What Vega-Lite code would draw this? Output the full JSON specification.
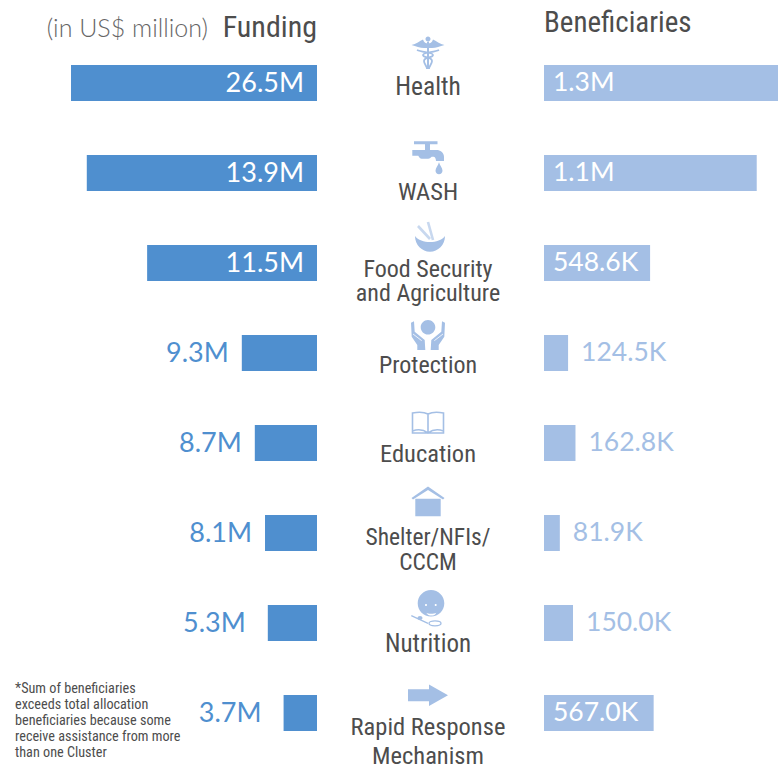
{
"$schema":"https://vega.github.io/schema/vega-lite/v6.json",
"background":"white",
"padding":{"left":0,"right":0,"top":9,"bottom":0},
"config":{"view":{"stroke":null},"concat":{"spacing":0},"axis":{"grid":false}},
"spacing":0,
"bounds":"flush",
"data":{"values":[
{"sector":"Health","label":"Health","funding_label":"26.5M","funding_drawn":26.5,"beneficiaries_k":1210,"beneficiaries_label":"1.3M"},
{"sector":"WASH","label":"WASH","funding_label":"13.9M","funding_drawn":24.8,"beneficiaries_k":1100,"beneficiaries_label":"1.1M"},
{"sector":"Food Security and Agriculture","label":"Food Security\nand Agriculture","funding_label":"11.5M","funding_drawn":18.3,"beneficiaries_k":548.6,"beneficiaries_label":"548.6K"},
{"sector":"Protection","label":"Protection","funding_label":"9.3M","funding_drawn":8.1,"beneficiaries_k":124.5,"beneficiaries_label":"124.5K"},
{"sector":"Education","label":"Education","funding_label":"8.7M","funding_drawn":6.7,"beneficiaries_k":162.8,"beneficiaries_label":"162.8K"},
{"sector":"Shelter/NFIs/CCCM","label":"Shelter/NFIs/\nCCCM","funding_label":"8.1M","funding_drawn":5.6,"beneficiaries_k":81.9,"beneficiaries_label":"81.9K"},
{"sector":"Nutrition","label":"Nutrition","funding_label":"5.3M","funding_drawn":5.3,"beneficiaries_k":150,"beneficiaries_label":"150.0K"},
{"sector":"Rapid Response Mechanism","label":"Rapid Response\nMechanism","funding_label":"3.7M","funding_drawn":3.6,"beneficiaries_k":567,"beneficiaries_label":"567.0K"}
]},
"hconcat":[
{"width":317,"height":720,
"encoding":{"y":{"field":"sector","type":"nominal","sort":null,"axis":null,"scale":{"paddingInner":0.6,"paddingOuter":0.3}}},
"layer":[
{"mark":{"type":"bar","color":"#4f8fcf"},"encoding":{"x":{"field":"funding_drawn","type":"quantitative","axis":null,"scale":{"domain":[0,34.15],"reverse":true,"nice":false}}}},
{"transform":[{"filter":"datum.funding_drawn>=18"}],"mark":{"type":"text","align":"right","baseline":"middle","dx":-13,"dy":1,"fontSize":27,"font":"Lato","color":"white"},"encoding":{"x":{"datum":0,"type":"quantitative"},"text":{"field":"funding_label"}}},
{"transform":[{"filter":"datum.funding_drawn<18 && datum.funding_drawn>=5.5"}],"mark":{"type":"text","align":"right","baseline":"middle","dx":-13,"dy":1,"fontSize":27,"font":"Lato","color":"#4f8fcf"},"encoding":{"x":{"field":"funding_drawn","type":"quantitative"},"text":{"field":"funding_label"}}},
{"transform":[{"filter":"datum.funding_drawn<5.5"}],"mark":{"type":"text","align":"right","baseline":"middle","dx":-22,"dy":1,"fontSize":27,"font":"Lato","color":"#4f8fcf"},"encoding":{"x":{"field":"funding_drawn","type":"quantitative"},"text":{"field":"funding_label"}}},
{"transform":[{"filter":"datum.sector=='Health'"}],"mark":{"type":"text","align":"right","baseline":"middle","dy":-55,"fontSize":30,"font":"Roboto Condensed","color":"#4d4d4d"},"encoding":{"x":{"datum":0,"type":"quantitative"},"text":{"value":"Funding"}}},
{"transform":[{"filter":"datum.sector=='Health'"}],"mark":{"type":"text","align":"right","baseline":"middle","dy":-54,"fontSize":25,"font":"Lato","fontWeight":300,"color":"#666666"},"encoding":{"x":{"datum":11.74,"type":"quantitative"},"text":{"value":"(in US$ million)"}}},
{"transform":[{"filter":"datum.sector=='Rapid Response Mechanism'"}],"mark":{"type":"text","align":"left","baseline":"middle","dy":-24,"fontSize":14.2,"lineHeight":16,"lineBreak":"\n","font":"Roboto Condensed","color":"#4d4d4d"},"encoding":{"x":{"datum":32.53,"type":"quantitative"},"text":{"value":"*Sum of beneficiaries\nexceeds total allocation\nbeneficiaries because some\nreceive assistance from more\nthan one Cluster"}}}
]},
{"width":227,"height":720,
"encoding":{"y":{"field":"sector","type":"nominal","sort":null,"axis":null,"scale":{"domain":["Health","WASH","Food Security and Agriculture","Protection","Education","Shelter/NFIs/CCCM","Nutrition","Rapid Response Mechanism"],"paddingInner":0.6,"paddingOuter":0.3}}},
"layer":[
{"transform":[{"filter":"datum.sector=='Health'"}],"mark":{"type":"text","baseline":"middle","align":"center","dx":-2.5,"dy":4,"fontSize":25.5,"font":"Roboto Condensed","color":"#4d4d4d"},"encoding":{"text":{"field":"label"}}},
{"transform":[{"filter":"datum.sector=='WASH'"}],"mark":{"type":"text","baseline":"middle","align":"center","dx":-2.5,"dy":20,"fontSize":24.5,"font":"Roboto Condensed","color":"#4d4d4d"},"encoding":{"text":{"field":"label"}}},
{"transform":[{"filter":"datum.sector=='Food Security and Agriculture'"}],"mark":{"type":"text","baseline":"middle","align":"center","dx":-2.5,"dy":7,"lineHeight":24,"lineBreak":"\n","fontSize":24,"font":"Roboto Condensed","color":"#4d4d4d"},"encoding":{"text":{"field":"label"}}},
{"transform":[{"filter":"datum.sector=='Protection'"}],"mark":{"type":"text","baseline":"middle","align":"center","dx":-2.5,"dy":13,"fontSize":24,"font":"Roboto Condensed","color":"#4d4d4d"},"encoding":{"text":{"field":"label"}}},
{"transform":[{"filter":"datum.sector=='Education'"}],"mark":{"type":"text","baseline":"middle","align":"center","dx":-2.5,"dy":12,"fontSize":24.5,"font":"Roboto Condensed","color":"#4d4d4d"},"encoding":{"text":{"field":"label"}}},
{"transform":[{"filter":"datum.sector=='Shelter/NFIs/CCCM'"}],"mark":{"type":"text","baseline":"middle","align":"center","dx":-2.5,"dy":5,"lineHeight":25,"lineBreak":"\n","fontSize":23.5,"font":"Roboto Condensed","color":"#4d4d4d"},"encoding":{"text":{"field":"label"}}},
{"transform":[{"filter":"datum.sector=='Nutrition'"}],"mark":{"type":"text","baseline":"middle","align":"center","dx":-2.5,"dy":21,"fontSize":25,"font":"Roboto Condensed","color":"#4d4d4d"},"encoding":{"text":{"field":"label"}}},
{"transform":[{"filter":"datum.sector=='Rapid Response Mechanism'"}],"mark":{"type":"text","baseline":"middle","align":"center","dx":-2.5,"dy":15,"lineHeight":29,"lineBreak":"\n","fontSize":24.5,"font":"Roboto Condensed","color":"#4d4d4d"},"encoding":{"text":{"field":"label"}}},

{"transform":[{"filter":"datum.sector=='Health'"}],"mark":{"type":"point","filled":true,"opacity":1,"size":4,"xOffset":-2.5,"yOffset":-30,"color":"#a4bfe5","shape":"M-16.5,-8 C-12,-9 -8,-12 -5,-13.5 C-4,-10.5 -2,-9.5 0,-9.5 C2,-9.5 4,-10.5 5,-13.5 C8,-12 12,-9 16.5,-8 C12,-6.5 8,-5 4,-5 L-4,-5 C-8,-5 -12,-6.5 -16.5,-8 Z M-2.5,-14 a2.5,2.5 0 1 0 5,0 a2.5,2.5 0 1 0 -5,0 Z M-1,-12 L1,-12 L1,16 L-1,16 Z"}},
{"transform":[{"filter":"datum.sector=='Health'"}],"mark":{"type":"point","filled":false,"opacity":1,"size":4,"strokeWidth":1.8,"xOffset":-2.5,"yOffset":-30,"color":"#a4bfe5","shape":"M-11,-3 C-6,-0.5 5,-1 5,2 C5,5 -4,4 -4,8 C-4,11 -1,13 -1,16 M11,-3 C6,-0.5 -5,-1 -5,2 C-5,5 4,4 4,8 C4,11 1,13 1,16"}},

{"transform":[{"filter":"datum.sector=='WASH'"}],"mark":{"type":"point","filled":true,"opacity":1,"size":4,"xOffset":-2.5,"yOffset":-16.3,"color":"#a4bfe5","shape":"M-14,-15.5 L9.5,-15.5 L9.5,-12.5 L2,-12.5 L2,-6.7 L8.7,-6.7 C12,-6.7 16,-4 16,0 L16,4.3 L8,4.3 C8,2 7,0 5.5,0 L3.7,0 C2.5,1 1.5,2 0.3,2 L-6.3,2 C-8,2 -9,0 -9.7,-1 L-15.7,-1 L-15.7,-6.7 L-3,-6.7 L-3,-12.5 L-14,-12.5 Z M11,5.5 C12,9 14.5,11 14.5,14 A3.4,3.4 0 0 1 7.5,14 C7.5,11 10,9 11,5.5 Z"}},

{"transform":[{"filter":"datum.sector=='Food Security and Agriculture'"}],"mark":{"type":"point","filled":true,"opacity":1,"size":4,"xOffset":-2.5,"yOffset":-23,"color":"#a4bfe5","shape":"M-13,-4 C-13,5 -6,11.7 2,11.7 C10,11.7 17,5 17,-4 C14,0 8,2 2,2 C-4,2 -10,0 -13,-4 Z"}},
{"transform":[{"filter":"datum.sector=='Food Security and Agriculture'"}],"mark":{"type":"point","filled":false,"opacity":0.6,"size":4,"strokeWidth":2.6,"xOffset":-2.5,"yOffset":-23,"color":"#a4bfe5","shape":"M-10,-14 L2,-1 M0,-18 L5,0"}},

{"transform":[{"filter":"datum.sector=='Protection'"}],"mark":{"type":"point","filled":true,"opacity":1,"size":4,"xOffset":-2.5,"yOffset":-18,"color":"#a4bfe5","shape":"M-7.3,-7.7 a7.3,7.3 0 1 0 14.6,0 a7.3,7.3 0 1 0 -14.6,0 Z M-17,-12.3 L-14,-13.7 L-13.3,-3.3 L-3.3,5 L-2.7,15 L-10.7,15 L-10.7,10 L-16.3,1.7 Z M17,-12.3 L14,-13.7 L13.3,-3.3 L3.3,5 L2.7,15 L10.7,15 L10.7,10 L16.3,1.7 Z"}},
{"transform":[{"filter":"datum.sector=='Protection'"}],"mark":{"type":"point","filled":false,"opacity":1,"size":4,"strokeWidth":0.8,"xOffset":-2.5,"yOffset":-18,"color":"white","shape":"M-15,-1 L-6.3,5.7 M15,-1 L6.3,5.7"}},

{"transform":[{"filter":"datum.sector=='Education'"}],"mark":{"type":"point","filled":false,"opacity":1,"size":4,"strokeWidth":1.6,"xOffset":-2.5,"yOffset":-21,"color":"#a4bfe5","shape":"M0,-8 C-4,-10 -10,-10 -15.5,-9 L-15.5,11 L15.5,11 L15.5,-9 C10,-10 4,-10 0,-8 L0,11 M-15.5,9 C-10,7 -4,8 0,11 C4,8 10,7 15.5,9"}},

{"transform":[{"filter":"datum.sector=='Shelter/NFIs/CCCM'"}],"mark":{"type":"point","filled":true,"opacity":1,"size":4,"xOffset":-2.5,"yOffset":-30,"color":"#a4bfe5","shape":"M-16.5,-5 L0,-16.5 L16.5,-5 L15,-3.5 L0,-13 L-15,-3.5 Z M-12.7,-4.3 L12.7,-4.3 L12.7,13.3 L-12.7,13.3 Z"}},

{"transform":[{"filter":"datum.sector=='Nutrition'"}],"mark":{"type":"point","filled":true,"opacity":1,"size":4,"xOffset":-2.5,"yOffset":-13,"color":"#a4bfe5","shape":"M-10.3,-6.7 a13.3,13.3 0 1 0 26.6,0 a13.3,13.3 0 1 0 -26.6,0 Z M-10.5,8 a2.5,2 0 1 0 5,0 a2.5,2 0 1 0 -5,0 Z"}},
{"transform":[{"filter":"datum.sector=='Nutrition'"}],"mark":{"type":"point","filled":false,"opacity":1,"size":4,"strokeWidth":1.3,"xOffset":-2.5,"yOffset":-13,"color":"#a4bfe5","shape":"M-16.7,5.7 L0,13.3 M1,13.3 a6,2.5 0 1 0 12,0 a6,2.5 0 1 0 -12,0 Z"}},
{"transform":[{"filter":"datum.sector=='Nutrition'"}],"mark":{"type":"point","filled":true,"opacity":1,"size":4,"xOffset":-2.5,"yOffset":-13,"color":"white","shape":"M-3,-5 a1,1 0 1 0 2,0 a1,1 0 1 0 -2,0 Z M6.7,-5 a1,1 0 1 0 2,0 a1,1 0 1 0 -2,0 Z M-1.7,2.7 C0,4 6,4 8.3,2.7 C7,6.5 0,6.5 -1.7,2.7 Z"}},

{"transform":[{"filter":"datum.sector=='Rapid Response Mechanism'"}],"mark":{"type":"point","filled":true,"opacity":1,"size":4,"xOffset":-2.5,"yOffset":-17.7,"color":"#a4bfe5","shape":"M-20,-6 L1,-6 L1,-10.7 L20,0 L1,10.7 L1,6 L-20,6 Z"}}
]},
{"width":234,"height":720,
"encoding":{"y":{"field":"sector","type":"nominal","sort":null,"axis":null,"scale":{"paddingInner":0.6,"paddingOuter":0.3}}},
"layer":[
{"mark":{"type":"bar","color":"#a4bfe5"},"encoding":{"x":{"field":"beneficiaries_k","type":"quantitative","axis":null,"scale":{"domain":[0,1210],"nice":false}}}},
{"transform":[{"filter":"datum.beneficiaries_k>=500"}],"mark":{"type":"text","align":"left","baseline":"middle","dx":9,"dy":0,"fontSize":26.5,"font":"Lato","color":"white"},"encoding":{"x":{"datum":0,"type":"quantitative"},"text":{"field":"beneficiaries_label"}}},
{"transform":[{"filter":"datum.beneficiaries_k<500"}],"mark":{"type":"text","align":"left","baseline":"middle","dx":13,"dy":0,"fontSize":26.5,"font":"Lato","color":"#a4bfe5"},"encoding":{"x":{"field":"beneficiaries_k","type":"quantitative"},"text":{"field":"beneficiaries_label"}}},
{"transform":[{"filter":"datum.sector=='Health'"}],"mark":{"type":"text","align":"left","baseline":"middle","dy":-60,"fontSize":29,"font":"Roboto Condensed","color":"#4d4d4d"},"encoding":{"x":{"datum":0,"type":"quantitative"},"text":{"value":"Beneficiaries"}}}
]}
]
}
